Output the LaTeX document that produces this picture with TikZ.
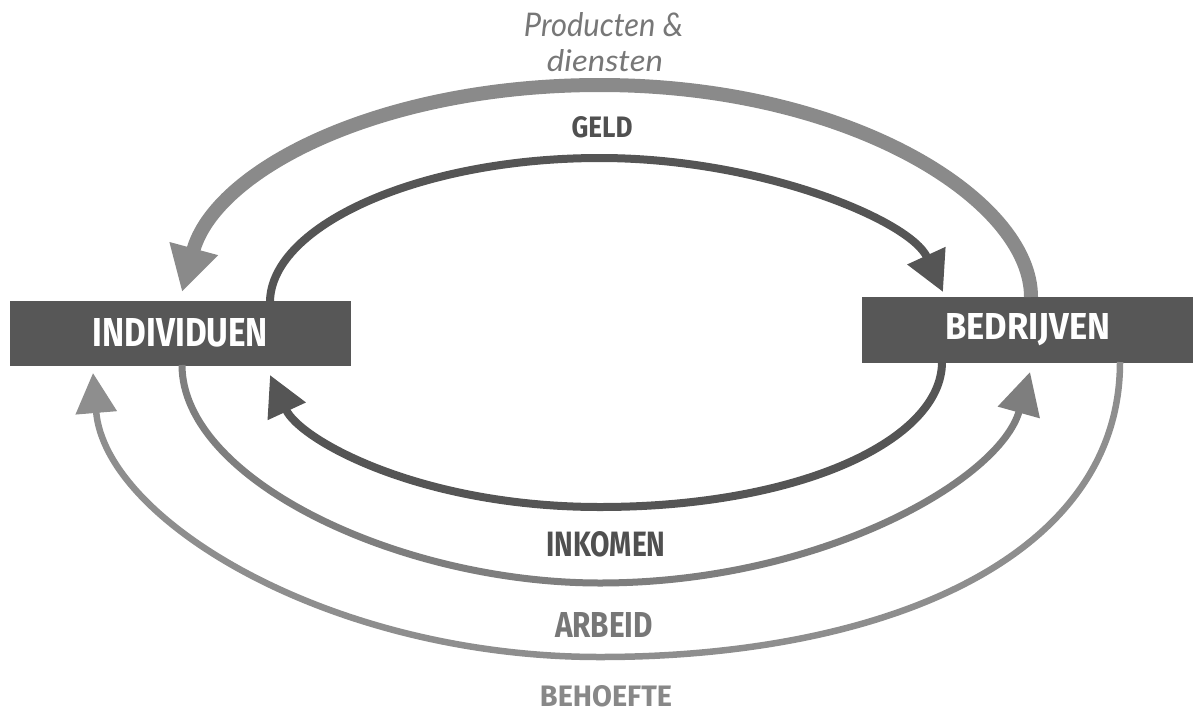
\documentclass[tikz,border=0pt]{standalone}
\usepackage{fontspec}
\usepackage{graphicx}
\setsansfont{Fira Sans}
\newfontfamily\capsfont{Fira Sans}
\newfontfamily\handfont{Lato}
\usetikzlibrary{arrows.meta}

\definecolor{boxgray}{HTML}{575757}
\definecolor{darkline}{HTML}{555555}
\definecolor{prodgray}{HTML}{8A8A8A}
\definecolor{inkgray}{HTML}{7E7E7E}
\definecolor{arbgray}{HTML}{8E8E8E}
\definecolor{lbldark}{HTML}{505050}
\definecolor{lblmid}{HTML}{777777}
\definecolor{lbllight}{HTML}{888888}

% text squeezed into a fixed width x height
\newcommand{\fitcaps}[3]{\resizebox{#1pt}{#2pt}{\capsfont\bfseries #3}}
\newcommand{\fithand}[3]{\resizebox{#1pt}{#2pt}{\handfont\itshape #3}}

\tikzset{
  sector/.style={fill=boxgray, draw=none, inner sep=0pt, text=white},
  lbl/.style={inner sep=0pt},
  flowdark/.style={draw=darkline, line width=8pt,
    -{Triangle[length=40pt,width=40pt]}},
  flowprod/.style={draw=prodgray, line width=14pt,
    -{Triangle[length=45pt,width=47pt]}},
  flowink/.style={draw=inkgray, line width=7pt,
    -{Triangle[length=42pt,width=42pt]}},
  flowarb/.style={draw=arbgray, line width=6.5pt,
    -{Triangle[length=40pt,width=40pt]}},
}

\begin{document}
\begin{tikzpicture}[x=1pt,y=-1pt]
  \useasboundingbox (0,0) rectangle (1193,715);

  % sectors
  \node[sector, minimum width=341pt, minimum height=65pt] (ind) at (180.5,333)
    {\fitcaps{175}{28}{INDIVIDUEN}};
  \node[sector, minimum width=332pt, minimum height=66pt] (bed) at (1028,330)
    {\fitcaps{165}{26}{BEDRIJVEN}};

  % end points of the flows on the sectors
  \coordinate (prodA) at (1031,297);
  \coordinate (prodB) at (182,292);
  \coordinate (geldA) at (270,301);
  \coordinate (geldB) at (943,292);
  \coordinate (uitA)  at (942,362);
  \coordinate (uitB)  at (270,375);
  \coordinate (inkA)  at (182,365);
  \coordinate (inkB)  at (1030,372);
  \coordinate (arbA)  at (1120,362);
  \coordinate (arbB)  at (93,373);

  % producten & diensten: bedrijven -> individuen
  \draw[flowprod] (prodA) .. controls (1031,200) and (850,85) .. (600,85)
                          .. controls (380,85) and (215,170) .. (prodB);
  % geld: individuen -> bedrijven
  \draw[flowdark] (geldA) .. controls (272,225) and (420,158) .. (600,158)
                          .. controls (760,158) and (910,220) .. (geldB);
  % bedrijven -> individuen (lower inner loop)
  \draw[flowdark] (uitA) .. controls (942,440) and (800,507) .. (600,507)
                         .. controls (420,507) and (300,440) .. (uitB);
  % inkomen: individuen -> bedrijven
  \draw[flowink] (inkA) .. controls (182,480) and (400,583) .. (600,583)
                        .. controls (820,583) and (1000,480) .. (inkB);
  % arbeid / behoefte: bedrijven -> individuen
  \draw[flowarb] (arbA) .. controls (1120,560) and (880,657) .. (600,657)
                        .. controls (330,657) and (105,520) .. (arbB);

  % flow labels
  \node[lbl, text=lblmid] (prod1) at (603.5,25) {\fithand{159}{24}{Producten \&}};
  \node[lbl, text=lblmid] (prod2) at (605,61) {\fithand{116}{22}{diensten}};
  \node[lbl, text=lbldark] (geld) at (602,127.5) {\fitcaps{61}{21}{GELD}};
  \node[lbl, text=lbldark] (ink) at (606,544.5) {\fitcaps{119}{25}{INKOMEN}};
  \node[lbl, text=lblmid] (arb) at (604,624.5) {\fitcaps{98}{25}{ARBEID}};
  \node[lbl, text=lbllight] (beh) at (606,696) {\fitcaps{132}{21}{BEHOEFTE}};
\end{tikzpicture}
\end{document}
